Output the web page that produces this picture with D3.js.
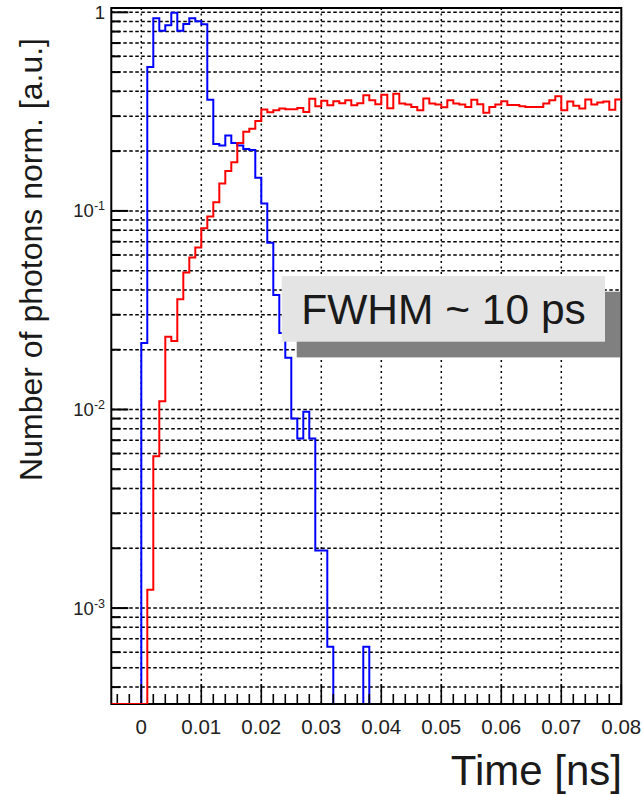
<!DOCTYPE html>
<html>
<head>
<meta charset="utf-8">
<script src="https://cdn.jsdelivr.net/npm/d3@7"></script>
<style>
  body { margin: 0; background: #fff; }
  text { font-family: "Liberation Sans", Arial, Helvetica, sans-serif; }
</style>
</head>
<body>
<svg id="chart" width="643" height="794"></svg>
<script>
// bins of 0.001 ns starting at t = 0 (bins before 0 are empty)
const binStart = 0;
const binWidth = 0.001;

// blue histogram, normalised photon counts per bin (missing bins = 0)
const blueHist = [
  0.0216, 0.531, 0.933, 0.807, 0.860, 0.995, 0.807, 0.873, 0.933, 0.901,
  0.870, 0.363, 0.2175, 0.2137, 0.240, 0.220, 0.2137, 0.2051, 0.2028, 0.1468,
  0.1089, 0.0692, 0.0377, 0.0243, 0.0182, 0.0090, 0.00714, 0.00973, 0.00714, 0.00195,
  0.00195, 0.000638, 0, 0, 0, 0, 0, 0.000638
];

// red histogram
const redHist = [
  0, 0.001237, 0.00581, 0.01101, 0.02326, 0.02213, 0.0359, 0.0490, 0.0583, 0.0655,
  0.0817, 0.0936, 0.1105, 0.1373, 0.1589, 0.1760, 0.2195, 0.2506, 0.2595, 0.2835,
  0.3236, 0.3136, 0.3210, 0.3275, 0.3248, 0.3248, 0.3298, 0.3148, 0.3670, 0.3364,
  0.3585, 0.3402, 0.3565, 0.3483, 0.3606, 0.3402, 0.3483, 0.3822, 0.3606, 0.3443,
  0.3845, 0.3286, 0.3890, 0.3471, 0.3431, 0.3336, 0.3210, 0.3678, 0.3471, 0.3431,
  0.3324, 0.3606, 0.3471, 0.3431, 0.3336, 0.3627, 0.3443, 0.3118, 0.3336, 0.3431,
  0.3565, 0.3415, 0.3415, 0.3364, 0.3336, 0.3336, 0.3336, 0.3471, 0.3606, 0.3778,
  0.3210, 0.3552, 0.3383, 0.3275, 0.3640, 0.3431, 0.3515, 0.3552, 0.3229, 0.3640
];

const xTicks = [0, 0.01, 0.02, 0.03, 0.04, 0.05, 0.06, 0.07, 0.08];
const xTickLabels = ["0", "0.01", "0.02", "0.03", "0.04", "0.05", "0.06", "0.07", "0.08"];
const yDecades = [1e-3, 1e-2, 1e-1, 1];
const yDecadeLabels = [["10", "-3"], ["10", "-2"], ["10", "-1"], ["1", ""]];

const xTitle = "Time [ns]";
const yTitle = "Number of photons norm. [a.u.]";
const boxText = "FWHM ~ 10 ps";

const svg = d3.select("#chart");

const plotL = 111.3, plotR = 621.3, plotT = 8, plotB = 704;

const x = d3.scaleLinear()
    .domain([-0.005, 0.08])
    .range([plotL, plotR]);

const y = d3.scaleLog()
    .domain([Math.pow(10, -3.483), Math.pow(10, 0.0217)])
    .range([plotB, plotT]);

// all log ticks inside the range (1..9 x 10^n)
var yAll = [];
for (var d = -4; d <= 0; d++) {
    for (var m = 1; m <= 9; m++) {
        var v = m * Math.pow(10, d);
        if (v >= y.domain()[0] && v <= y.domain()[1]) yAll.push({v: v, major: m === 1});
    }
}
var xMinor = d3.range(-4, 81, 2).map(i => i / 1000);

svg.append("clipPath").attr("id", "plotclip")
    .append("rect")
    .attr("x", plotL).attr("y", plotT)
    .attr("width", plotR - plotL).attr("height", plotB - plotT);

// grid
const grid = svg.append("g")
    .attr("stroke", "#000")
    .attr("stroke-width", 1.5)
    .attr("fill", "none");

grid.selectAll("line.h")
    .data(yAll)
    .join("line")
    .attr("class", "h")
    .attr("x1", plotL).attr("x2", plotR)
    .attr("y1", d => y(d.v)).attr("y2", d => y(d.v))
    .attr("stroke-dasharray", "3.5,2.5");

grid.selectAll("line.v")
    .data(xTicks.filter(t => t < 0.08))
    .join("line")
    .attr("class", "v")
    .attr("x1", d => x(d)).attr("x2", d => x(d))
    .attr("y1", plotT).attr("y2", plotB)
    .attr("stroke-dasharray", "2,3.5");

function histPoints(vals) {
    // empty bins before binStart lie on the lower frame edge
    var pts = [[x(x.domain()[0]), plotB], [x(binStart), plotB]];
    var n = Math.round((x.domain()[1] - binStart) / binWidth);
    for (var k = 0; k < n; k++) {
        var v = vals[k] || 0;
        var yy = v > 0 ? y(v) : plotB;
        pts.push([x(binStart + k * binWidth), yy]);
        pts.push([x(binStart + (k + 1) * binWidth), yy]);
    }
    return pts;
}

const line = d3.line();

svg.append("path")
    .attr("clip-path", "url(#plotclip)")
    .attr("d", line(histPoints(blueHist)))
    .attr("fill", "none")
    .attr("stroke", "#0000ff")
    .attr("stroke-width", 2);

// text box with shadow
const bx = 281.7, by = 276, bw = 323.3, bh = 65.7;
svg.append("rect")
    .attr("x", bx + 15).attr("y", by + 15.7)
    .attr("width", bw).attr("height", bh)
    .attr("fill", "#808080");
svg.append("rect")
    .attr("x", bx).attr("y", by)
    .attr("width", bw).attr("height", bh)
    .attr("fill", "#e4e4e4");
svg.append("text")
    .attr("x", 443.5).attr("y", by + 48)
    .attr("text-anchor", "middle")
    .style("font-size", "42.5px")
    .attr("fill", "#1a1a1a")
    .text(boxText);

// axes and frame
const axis = svg.append("g")
    .attr("stroke", "#000")
    .attr("fill", "none");

axis.selectAll("line.yt")
    .data(yAll)
    .join("line")
    .attr("class", "yt")
    .attr("x1", plotL)
    .attr("x2", d => plotL + (d.major ? 17 : 9))
    .attr("y1", d => y(d.v)).attr("y2", d => y(d.v))
    .attr("stroke-width", 2);

axis.selectAll("line.xt")
    .data(xMinor)
    .join("line")
    .attr("class", "xt")
    .attr("x1", d => x(d)).attr("x2", d => x(d))
    .attr("y1", plotB)
    .attr("y2", d => plotB - (Math.abs(d * 100 - Math.round(d * 100)) < 1e-6 ? 20 : 10))
    .attr("stroke-width", 1.6);

axis.append("rect")
    .attr("x", plotL).attr("y", plotT)
    .attr("width", plotR - plotL).attr("height", plotB - plotT)
    .attr("stroke-width", 2);

svg.append("path")
    .attr("clip-path", "url(#plotclip)")
    .attr("d", line(histPoints(redHist)))
    .attr("fill", "none")
    .attr("stroke", "#ff0000")
    .attr("stroke-width", 2);

// tick labels
svg.append("g")
    .selectAll("text")
    .data(xTicks)
    .join("text")
    .attr("x", (d, i) => x(d))
    .attr("y", 734)
    .attr("text-anchor", "middle")
    .style("font-size", "20.5px")
    .attr("fill", "#222")
    .text((d, i) => xTickLabels[i]);

const yl = svg.append("g")
    .selectAll("text")
    .data(yDecades)
    .join("text")
    .attr("x", 105)
    .attr("y", d => y(d) + 6.5)
    .attr("text-anchor", "end")
    .style("font-size", "18.5px")
    .attr("fill", "#222");
yl.append("tspan").text((d, i) => yDecadeLabels[i][0]);
yl.append("tspan")
    .attr("dy", -7)
    .style("font-size", "12.5px")
    .text((d, i) => yDecadeLabels[i][1]);

// titles
svg.append("text")
    .attr("x", 622).attr("y", 785)
    .attr("text-anchor", "end")
    .style("font-size", "42px")
    .attr("fill", "#1a1a1a")
    .text(xTitle);

svg.append("text")
    .attr("transform", "translate(42,38) rotate(-90)")
    .attr("text-anchor", "end")
    .style("font-size", "32px")
    .attr("fill", "#1a1a1a")
    .text(yTitle);
</script>
</body>
</html>
